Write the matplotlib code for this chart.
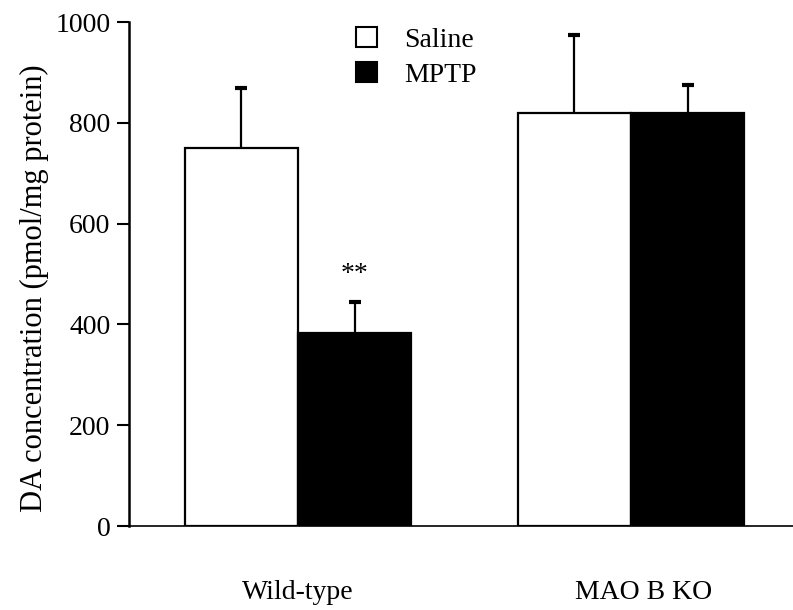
import matplotlib.pyplot as plt
from matplotlib.patches import Patch
import numpy as np

plt.rcParams['font.family'] = ['Liberation Serif', 'DejaVu Serif']

# Data
groups = ['Wild-type', 'MAO B KO']
treatments = ['Saline', 'MPTP']
saline_mean = [750, 820]
saline_err = [120, 155]
mptp_mean = [382, 820]
mptp_err = [62, 55]
significance = ['**', '']


def plot_da_concentration():
    fig = plt.figure(figsize=(7.93, 6.10), dpi=100)
    ax = fig.add_axes([129 / 793, 1 - 526 / 610, 1 - 129 / 793, (526 - 22) / 610])

    x = np.arange(len(groups))
    width = 0.34

    # bars
    ax.bar(x - width / 2, saline_mean, width, color='white', edgecolor='black',
           linewidth=1.6, zorder=2)
    ax.bar(x + width / 2, mptp_mean, width, color='black', edgecolor='black',
           linewidth=1.6, zorder=2)

    # error bars sit behind the bars so only the upper half shows
    ax.errorbar(x - width / 2, saline_mean, yerr=saline_err, fmt='none',
                ecolor='black', elinewidth=1.6, capsize=4.5, capthick=3, zorder=1)
    ax.errorbar(x + width / 2, mptp_mean, yerr=mptp_err, fmt='none',
                ecolor='black', elinewidth=1.6, capsize=4.5, capthick=3, zorder=1)

    for xi, m, e, s in zip(x, mptp_mean, mptp_err, significance):
        if s:
            ax.text(xi + width / 2, m + e + 30, s, ha='center', va='bottom', fontsize=20)

    ax.set_ylim(0, 1000)
    ax.set_xlim(-0.5075, 1.486)
    ax.set_yticks(np.arange(0, 1001, 200))
    ax.set_xticks([0, 1.036])
    ax.set_xticklabels(groups)
    ax.tick_params(axis='y', direction='out', length=8.5, width=1.5, labelsize=20, pad=5)
    ax.tick_params(axis='x', length=0, labelsize=20, pad=39)

    ax.spines['top'].set_visible(False)
    ax.spines['right'].set_visible(False)
    ax.spines['left'].set_linewidth(1.8)
    ax.spines['bottom'].set_linewidth(1.2)

    ax.set_ylabel('DA concentration (pmol/mg protein)', fontsize=22)
    ax.yaxis.set_label_coords(-0.12, 0.472)

    handles = [Patch(facecolor='white', edgecolor='black', linewidth=1.5),
               Patch(facecolor='black', edgecolor='black', linewidth=1.5)]
    ax.legend(handles, treatments, loc='upper left', bbox_to_anchor=(356 / 793, 1 - 27 / 610),
              bbox_transform=fig.transFigure, frameon=False, fontsize=20,
              handlelength=0.75, handleheight=0.75, handletextpad=1.0,
              labelspacing=0.32, borderaxespad=0, borderpad=0)

    fig.savefig('out.png', dpi=100)


if __name__ == '__main__':
    plot_da_concentration()
